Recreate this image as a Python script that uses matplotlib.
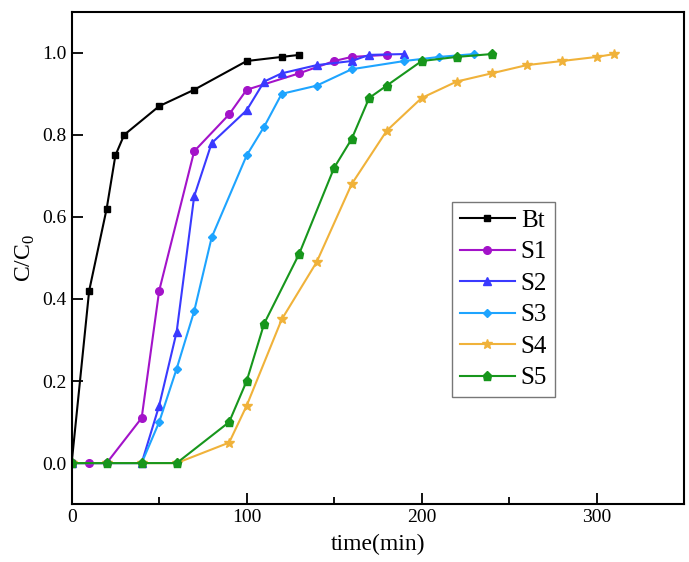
import matplotlib
matplotlib.use("Agg")
import matplotlib.pyplot as plt
from matplotlib.ticker import MultipleLocator

plt.rcParams["font.family"] = ["Liberation Serif", "DejaVu Serif"]
plt.rcParams["mathtext.fontset"] = "custom"
plt.rcParams["mathtext.rm"] = "Liberation Serif"

# breakthrough data
bt_t = [0, 10, 20, 25, 30, 50, 70, 100, 120, 130]
bt_c = [0, 0.42, 0.62, 0.75, 0.80, 0.87, 0.91, 0.98, 0.99, 0.995]

s1_t = [0, 10, 20, 40, 50, 70, 90, 100, 130, 150, 160, 180]
s1_c = [0, 0, 0, 0.11, 0.42, 0.76, 0.85, 0.91, 0.95, 0.98, 0.99, 0.995]

s2_t = [0, 40, 50, 60, 70, 80, 100, 110, 120, 140, 160, 170, 190]
s2_c = [0, 0, 0.14, 0.32, 0.65, 0.78, 0.86, 0.93, 0.95, 0.97, 0.98, 0.995, 0.997]

s3_t = [0, 40, 50, 60, 70, 80, 100, 110, 120, 140, 160, 190, 210, 230]
s3_c = [0, 0, 0.10, 0.23, 0.37, 0.55, 0.75, 0.82, 0.90, 0.92, 0.96, 0.98, 0.99, 0.997]

s4_t = [0, 20, 40, 60, 90, 100, 120, 140, 160, 180, 200, 220, 240, 260, 280, 300, 310]
s4_c = [0, 0, 0, 0, 0.05, 0.14, 0.35, 0.49, 0.68, 0.81, 0.89, 0.93, 0.95, 0.97,
        0.98, 0.99, 0.997]

s5_t = [0, 20, 40, 60, 90, 100, 110, 130, 150, 160, 170, 180, 200, 220, 240]
s5_c = [0, 0, 0, 0, 0.10, 0.20, 0.34, 0.51, 0.72, 0.79, 0.89, 0.92, 0.98, 0.99, 0.997]

series = [
    ("Bt", bt_t, bt_c, "#000000", "s", 5),
    ("S1", s1_t, s1_c, "#a313c9", "o", 5.5),
    ("S2", s2_t, s2_c, "#3a3aff", "^", 6),
    ("S3", s3_t, s3_c, "#1ea4ff", "D", 4.5),
    ("S4", s4_t, s4_c, "#f0b23a", "*", 7),
    ("S5", s5_t, s5_c, "#17961c", "p", 6.5),
]

fig = plt.figure(figsize=(6.89, 5.62), dpi=100)
ax = fig.add_axes([0.104, 0.103, 0.889, 0.876])

for name, t, c, color, marker, ms in series:
    ax.plot(t, c, color=color, marker=marker, markersize=ms, linewidth=1.5,
            label=name)

ax.set_xlim(0, 350)
ax.set_ylim(-0.1, 1.1)
ax.xaxis.set_major_locator(MultipleLocator(100))
ax.xaxis.set_minor_locator(MultipleLocator(50))
ax.yaxis.set_major_locator(MultipleLocator(0.2))
ax.yaxis.set_major_formatter(plt.FormatStrFormatter("%.1f"))

ax.tick_params(which="both", direction="in", labelsize=14, width=1.3)
ax.tick_params(which="major", length=8)
ax.tick_params(which="minor", length=5)
for spine in ax.spines.values():
    spine.set_linewidth(1.5)

ax.set_xlabel("time(min)", fontsize=17, labelpad=6)
ax.set_ylabel(r"C/C$_\mathregular{0}$", fontsize=17, labelpad=4)

# legend box sits right of centre, roughly x 452-550 px, y 202-395 px
leg = ax.legend(loc="upper left", bbox_to_anchor=(0.621, 0.614), fontsize=18,
                frameon=True, fancybox=False, edgecolor="#555555",
                handlelength=2.2, labelspacing=0.36, borderpad=0.3,
                handletextpad=0.25, borderaxespad=0)
leg.get_frame().set_linewidth(1.0)

fig.savefig("out.png", dpi=100)
